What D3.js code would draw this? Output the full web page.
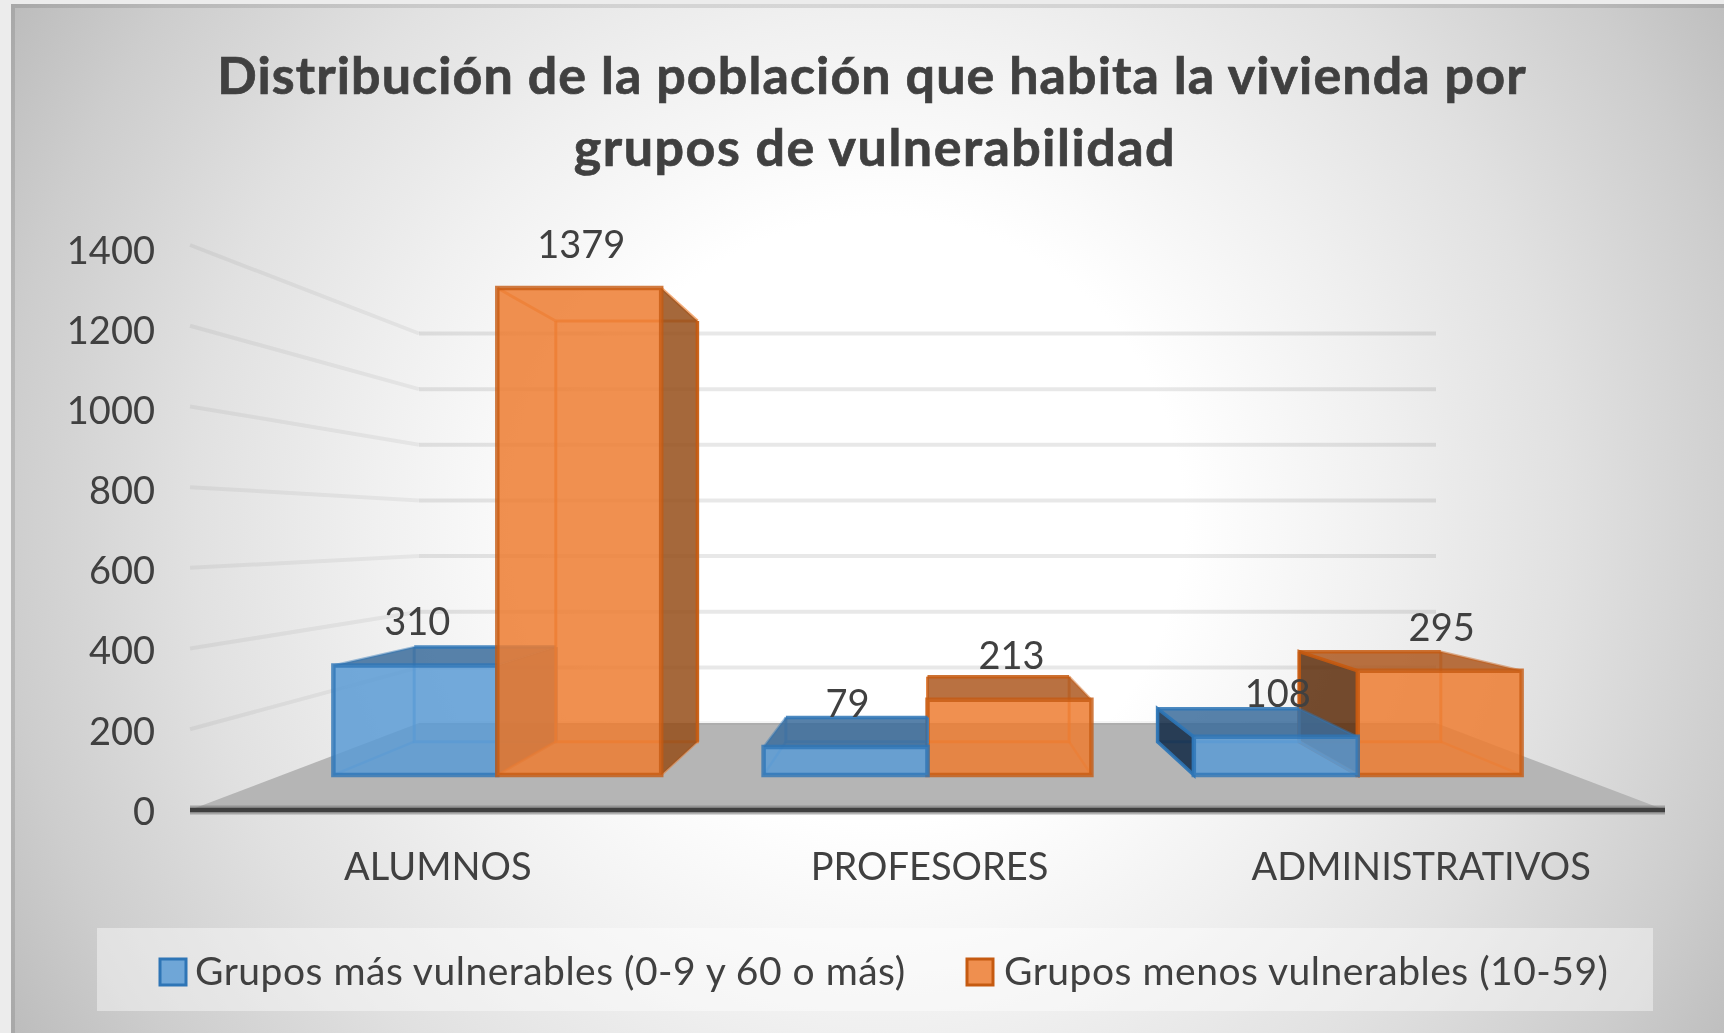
<!DOCTYPE html>
<html><head><meta charset="utf-8">
<script src="https://cdn.jsdelivr.net/npm/d3@7"></script>
<style>html,body{margin:0;padding:0;background:#ececec;overflow:hidden}svg{display:block;filter:blur(.45px)}
text{font-family:Lato,"Open Sans",sans-serif;fill:#404040}</style></head><body>
<svg id="c" width="1724" height="1033"></svg>
<script>
const titleLines=["Distribución de la población que habita la vivienda por","grupos de vulnerabilidad"];
const categories=["ALUMNOS","PROFESORES","ADMINISTRATIVOS"];
const seriesNames=["Grupos más vulnerables (0-9 y 60 o más)","Grupos menos vulnerables (10-59)"];
const seriesA=[310,79,108];
const seriesB=[1379,213,295];
const yTicks=[0,200,400,600,800,1000,1200,1400];
const seriesStyle=[
 {base:"#5B9BD5",edge:"#2E75B6",top:"#3B6C9B",right:"#39628A",left:"#0F2844",inner:"#4A8FD0"},
 {base:"#ED7D31",edge:"#C55A11",top:"#AD5820",right:"#954D19",left:"#5D2D0B",inner:"#ED7420"}];

const svg=d3.select("#c");
const W=1724,H=1033;
const defs=svg.append("defs");
const g=defs.append("radialGradient").attr("id","bg").attr("gradientUnits","userSpaceOnUse")
 .attr("cx",880).attr("cy",520).attr("r",1010);
[[0,"#ffffff"],[.3,"#ffffff"],[.5,"#f0f0f0"],[.68,"#e1e1e1"],[.87,"#cdcdcd"],[1,"#bcbcbc"]].forEach(d=>g.append("stop").attr("offset",d[0]).attr("stop-color",d[1]));
svg.append("rect").attr("x",11).attr("y",4).attr("width",W-11).attr("height",H-4).attr("fill","url(#bg)");
svg.append("path").attr("d",`M13,${H}V6H${W}`).attr("fill","none").attr("stroke","#000").attr("stroke-opacity",.1).attr("stroke-width",4);

// perspective model
const vp={x:927.5,y:530},frontHalf=737.5,groundDrop=280;
const sFloorBack=.6895,sBarFront=.875,sBarBack=.756;
const yH=d3.scaleLinear().domain([0,1400]).range([0,565]);
const project=(X,v,s)=>[vp.x+X*s,vp.y+(groundDrop-yH(v))*s];
const x0=d3.scaleBand().domain(categories).range([-frontHalf,frontHalf]).paddingInner(.238).paddingOuter(.119);
const x1=d3.scaleBand().domain([0,1]).range([0,x0.bandwidth()]);
const poly=pts=>d3.line()(pts)+"Z";

// floor
svg.append("path").attr("fill","#b5b5b5").attr("d",poly([project(-frontHalf,0,1),project(-frontHalf,0,sFloorBack),project(frontHalf,0,sFloorBack),project(frontHalf,0,1)]));
// gridlines
const gl=svg.append("g").attr("fill","none");
yTicks.forEach(t=>{
 if(t) gl.append("path").attr("d",d3.line()([project(-frontHalf,t,1),project(-frontHalf,t,sFloorBack)])).attr("stroke","#000").attr("stroke-opacity",.05).attr("stroke-width",4);
 gl.append("path").attr("d",d3.line()([project(-frontHalf,t,sFloorBack),project(frontHalf,t,sFloorBack)])).attr("stroke","#000").attr("stroke-opacity",t?.09:.04).attr("stroke-width",4);
});

// bars
const bars=[];
categories.forEach((c,i)=>{[seriesA[i],seriesB[i]].forEach((v,k)=>{
 const xa=x0(c)+x1(k),xb=xa+x1.bandwidth();
 bars.push({c,v,k,xa,xb,dist:Math.abs((xa+xb)/2)});
});});
bars.sort((a,b)=>d3.descending(a.dist,b.dist));
const gb=svg.append("g");
bars.forEach(b=>{
 const st=seriesStyle[b.k];
 const P={
  fbl:project(b.xa,0,sBarFront),fbr:project(b.xb,0,sBarFront),ftl:project(b.xa,b.v,sBarFront),ftr:project(b.xb,b.v,sBarFront),
  bbl:project(b.xa,0,sBarBack),bbr:project(b.xb,0,sBarBack),btl:project(b.xa,b.v,sBarBack),btr:project(b.xb,b.v,sBarBack)};
 const grp=gb.append("g").attr("stroke-linejoin","miter");
 const face=(pts,fill,op,stroke,sw,so)=>grp.append("path").attr("d",poly(pts)).attr("fill",fill).attr("fill-opacity",op).attr("stroke",stroke).attr("stroke-width",sw).attr("stroke-opacity",so);
 const edge=(pts,stroke,sw,so)=>grp.append("path").attr("d",d3.line()(pts)).attr("fill","none").attr("stroke",stroke).attr("stroke-width",sw).attr("stroke-opacity",so);
 // hidden edges
 edge([P.btl,P.bbl,P.bbr,P.btr],st.inner,3,.7);
 edge([P.fbl,P.bbl],st.inner,2.5,.5);
 edge([P.fbr,P.bbr],st.inner,2.5,.5);
 const topVisible=P.btl[1]<P.ftl[1];
 if(!topVisible){
  edge([P.btl,P.btr],st.inner,3,.7);
  edge([P.ftl,P.btl],st.inner,3,.6);
  edge([P.ftr,P.btr],st.inner,3,.6);
 }
 // visible side faces
 if(topVisible){
  face([P.ftl,P.btl,P.btr,P.ftr],st.top,.85,"none",0,0);
  edge([P.btl,P.btr],st.edge,3.5,.85);
  edge([P.ftl,P.btl],st.edge,2.5,.45);
  edge([P.ftr,P.btr],st.edge,2.5,.45);
 }
 if(P.bbl[0]<P.fbl[0]) face([P.fbl,P.ftl,P.btl,P.bbl],st.left,.85,st.edge,3.5,.9);
 if(P.bbr[0]>P.fbr[0]){
  face([P.fbr,P.ftr,P.btr,P.bbr],st.right,.85,"none",0,0);
  edge([P.btr,P.bbr],st.edge,3.5,.85);
 }
 // front
 face([P.fbl,P.ftl,P.ftr,P.fbr],st.base,.85,st.edge,4.5,.8);
 b.labelX=(P.ftl[0]+P.ftr[0])/2+2; b.labelY=P.ftl[1]-44;
});

// baseline
const yAxisScale=d3.scaleLinear().domain([0,1400]).range([812,251]);
const xAxisScale=d3.scaleBand().domain(categories).range([190,1665]);
svg.append("line").attr("x1",190).attr("x2",1665).attr("y1",810).attr("y2",810).attr("stroke","#7f7f7f").attr("stroke-opacity",.6).attr("stroke-width",9);
svg.append("line").attr("x1",190).attr("x2",1665).attr("y1",810).attr("y2",810).attr("stroke","#3f3f3f").attr("stroke-width",4.5);

// axes
const fs=38;
const ax=svg.append("g").attr("transform","translate(155,0)").call(d3.axisLeft(yAxisScale).tickValues(yTicks).tickSize(0).tickPadding(0).tickFormat(d3.format("d")));
ax.select(".domain").remove();
ax.selectAll("text").style("font-size",fs+"px").style("font-family","Lato").attr("fill","#404040");
const ax2=svg.append("g").attr("transform","translate(2,866)").call(d3.axisBottom(xAxisScale).tickSize(0).tickPadding(0));
ax2.select(".domain").remove();
ax2.selectAll("text").style("font-size","38px").style("font-family","Lato").attr("fill","#404040").attr("dy","0.36em").attr("y",0);

// labels
svg.append("g").selectAll("text").data(bars).join("text").attr("x",d=>d.labelX).attr("y",d=>d.labelY).attr("dy",".36em").attr("text-anchor","middle").style("font-size",fs+"px").text(d=>d.v);

// title
svg.append("g").selectAll("text").data(titleLines).join("text").attr("x",(d,i)=>i?875:872).attr("y",(d,i)=>94+i*72).attr("text-anchor","middle")
 .style("font-size","52px").style("font-weight",700).style("letter-spacing",(d,i)=>i?"1.5px":"1.1px").style("stroke","#404040").style("stroke-width",".7px").text(d=>d);

// legend
svg.append("rect").attr("x",97).attr("y",928).attr("width",1556).attr("height",83).attr("fill","#fff").attr("fill-opacity",.42);
const legendX=[{sw:160,tx:195},{sw:967,tx:1004}];
seriesNames.forEach((n,i)=>{
 const st=seriesStyle[i];
 svg.append("rect").attr("x",legendX[i].sw).attr("y",959).attr("width",26).attr("height",26).attr("fill",st.base).attr("fill-opacity",.85).attr("stroke",st.edge).attr("stroke-width",3);
 svg.append("text").attr("x",legendX[i].tx).attr("y",971).attr("dy",".36em").style("font-size","39px").style("letter-spacing",".5px").text(n);
});
</script></body></html>
